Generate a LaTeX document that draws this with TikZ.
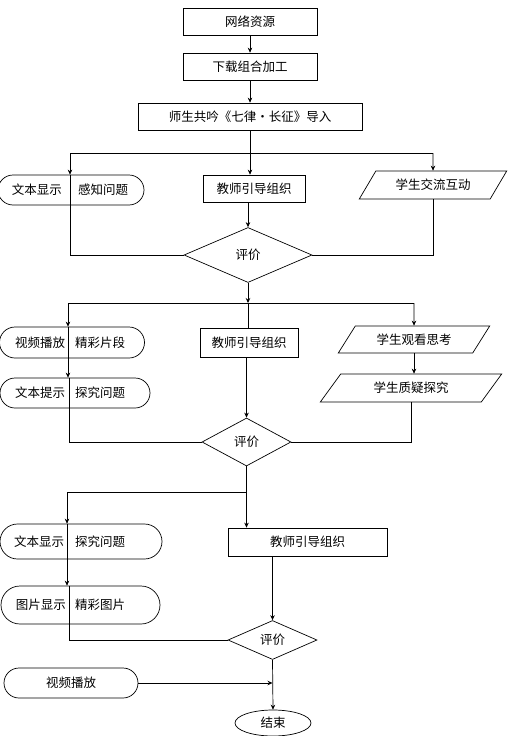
\documentclass[tikz,border=0pt]{standalone}
\usepackage{fontspec}
\newfontfamily\cjk{Noto Sans CJK SC}
\usepackage{tikz}
\usetikzlibrary{shapes.geometric, shapes.misc, arrows.meta, positioning}

\tikzset{
  sqbox/.style={ draw, rectangle, minimum height=27pt, inner sep=2pt }
}
\tikzset{
  termbox/.style={ draw, rounded rectangle, minimum height=30pt, inner sep=0pt }
}
\tikzset{
  parabox/.style={ draw, trapezium, trapezium left angle=47, trapezium right angle=133,
    trapezium stretches=true, minimum height=28pt, inner sep=0pt }
}
\tikzset{
  evalbox/.style={ draw, diamond, inner sep=0pt }
}
\tikzset{
  endbox/.style={ draw, ellipse, minimum width=76pt, minimum height=26pt, inner sep=0pt }
}
\tikzset{
  txt/.style={ inner sep=0pt }
}

\begin{document}
\begin{tikzpicture}[x=1pt, y=-1pt, line width=0.7pt,
    >={Stealth[length=5pt,width=4.5pt]},
    every node/.style={font=\cjk\fontsize{12.5}{15}\selectfont}]
  \useasboundingbox (0,0) rectangle (517,736);

  % opening steps
  \node[sqbox, minimum width=134pt] (src) at (250,21.5) {网络资源};
  \node[sqbox, minimum width=134pt] (edit) at (250,66.5) {下载组合加工};
  \node[sqbox, minimum width=224pt] (intro) at (250,116.5) {师生共吟《七律·长征》导入};

  \draw[->] (src) -- (edit);
  \draw[->] (edit) -- (intro);

  % first round
  \node[termbox, minimum width=146pt] (show1) at (71,190) {};
  \coordinate (cut1) at (70,190);
  \node[txt] (show1l) at (37,190) {文本显示};
  \node[txt] (show1r) at (103,190) {感知问题};
  \node[sqbox, minimum width=102pt] (guide1) at (254,188.5) {教师引导组织};
  \node[parabox, minimum width=148pt] (talk) at (433,185) {学生交流互动};
  \node[evalbox, minimum width=128pt, minimum height=55pt] (eval1) at (248,255) {评价};

  \coordinate (fork1) at (250,153);
  \draw[->] (intro) -- (intro.south |- guide1.north);
  \draw (fork1 -| cut1) -- (fork1 -| talk);
  \draw[->] (fork1 -| cut1) -- (cut1 |- show1.north);
  \draw[->] (fork1 -| talk) -- (talk.north);
  \draw[->] (guide1.south -| eval1.north) -- (eval1.north);
  \draw (cut1 |- show1.north) -- (cut1 |- eval1.west) -- (eval1.west);
  \draw (talk.south) -- (talk.south |- eval1.east) -- (eval1.east);

  % second round
  \node[termbox, minimum width=145pt, minimum height=31pt] (video1) at (72,342.5) {};
  \coordinate (cut2) at (68,342.5);
  \node[txt] (video1l) at (40,342.5) {视频播放};
  \node[txt] (video1r) at (100,342.5) {精彩片段};
  \node[termbox, minimum width=150pt] (hint) at (75,393) {};
  \coordinate (cut3) at (69,393);
  \node[txt] (hintl) at (40,393) {文本提示};
  \node[txt] (hintr) at (100,393) {探究问题};
  \node[sqbox, minimum width=98pt, minimum height=29pt] (guide2) at (249,342.5) {教师引导组织};
  \node[parabox, minimum width=152pt, minimum height=27pt] (watch) at (414,339.5) {学生观看思考};
  \node[parabox, minimum width=182pt] (ask) at (411,388) {学生质疑探究};
  \node[evalbox, minimum width=89pt, minimum height=48pt] (eval2) at (246.5,442) {评价};

  \coordinate (fork2) at (248,303);
  \draw[->] (eval1.south) -- (eval1.south |- fork2);
  \draw (eval1.south |- fork2) -- (eval1.south |- guide2.north);
  \draw (fork2 -| cut2) -- (fork2 -| watch);
  \draw[->] (fork2 -| cut2) -- (cut2 |- video1.north);
  \draw[->] (fork2 -| watch) -- (watch.north);
  \draw[->] (cut2 |- video1.north) -- (cut2 |- hint.north);
  \draw (cut3 |- hint.north) -- (cut3 |- eval2.west) -- (eval2.west);
  \draw[->] (guide2.south -| eval2.north) -- (eval2.north);
  \draw[->] (watch.south) -- (watch.south |- ask.north);
  \draw (ask.south) -- (ask.south |- eval2.east) -- (eval2.east);

  % third round
  \node[termbox, minimum width=162pt, minimum height=35pt] (show2) at (81,541.5) {};
  \coordinate (cut4) at (67,541.5);
  \node[txt] (show2l) at (39,541.5) {文本显示};
  \node[txt] (show2r) at (100,541.5) {探究问题};
  \node[termbox, minimum width=159pt, minimum height=38pt] (pic) at (80.5,605) {};
  \coordinate (cut5) at (69,605);
  \node[txt] (picl) at (41,605) {图片显示};
  \node[txt] (picr) at (100,605) {精彩图片};
  \node[sqbox, minimum width=159pt, minimum height=28pt] (guide3) at (307.5,542) {教师引导组织};
  \node[evalbox, minimum width=89pt, minimum height=39pt] (eval3) at (272.5,640) {评价};
  \node[termbox, minimum width=134pt] (video2) at (71,683) {视频播放};
  \node[endbox] (stop) at (273,723) {结束};

  \coordinate (fork3) at (246,492);
  \draw[->] (eval2.south) -- (eval2.south |- guide3.north);
  \draw[->] (eval2.south |- fork3) -| (cut4 |- show2.north);
  \draw[->] (cut4 |- show2.north) -- (cut4 |- pic.north);
  \draw (cut5 |- pic.north) -- (cut5 |- eval3.west) -- (eval3.west);
  \draw[->] (guide3.south -| eval3.north) -- (eval3.north);
  \draw[->] (eval3.south) -- (stop.north);
  \draw[->] (video2.east) -- (video2.east -| eval3.south);
\end{tikzpicture}
\end{document}
